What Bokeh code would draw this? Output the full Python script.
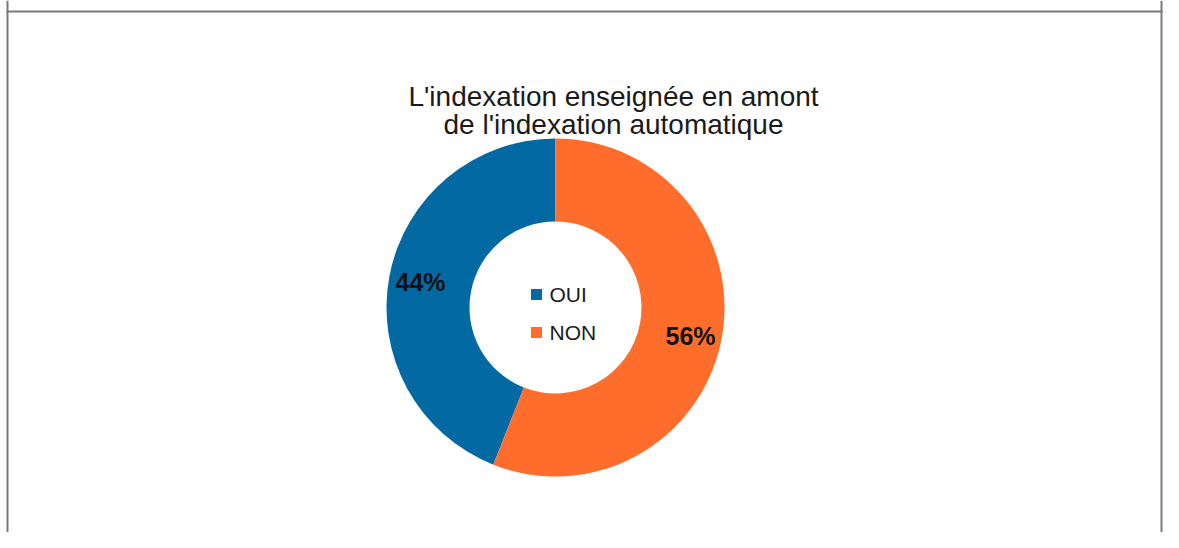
from math import pi
from bokeh.plotting import figure
from bokeh.models import Range1d, Span, ColumnDataSource
from bokeh.core.properties import value
from bokeh.embed import file_html
from bokeh.resources import INLINE

# ---- data ----
categories = ["OUI", "NON"]
shares = [44, 56]
labels = ["44%", "56%"]
colors = ["#0369a3", "#ff6d2d"]
title_lines = ["L'indexation enseignée en amont", "de l'indexation automatique"]

W, H = 1163, 532
FONT = "Liberation Sans"

def px(x):
    return x

def py(y):
    return H - y

p = figure(width=W, height=H, output_backend="svg", toolbar_location=None,
           x_range=Range1d(0, W), y_range=Range1d(0, H),
           min_border=0, outline_line_color=None)
p.axis.visible = False
p.grid.visible = False
p.background_fill_color = "white"
p.border_fill_color = "white"

# frame (left, top, right; bottom is cut off in the reference)
frame_col = "#7a7a7a"
p.add_layout(Span(location=px(7), dimension="height", line_color=frame_col, line_width=2))
p.add_layout(Span(location=W - 2, dimension="height", line_color=frame_col, line_width=2))
p.segment(x0=[px(6)], y0=[py(11)], x1=[W - 1], y1=[py(11)],
          line_color=frame_col, line_width=2)

# donut wedges from shares
total = sum(shares)
starts, ends = [], []
acc = pi / 2
for s in shares:
    starts.append(acc)
    acc += s / total * 2 * pi
    ends.append(acc)

cx, cy = px(555), py(307)
src = ColumnDataSource(dict(cat=categories, start=starts, end=ends, color=colors))
p.annular_wedge(x=cx, y=cy, inner_radius=86, outer_radius=169,
                start_angle="start", end_angle="end", fill_color="color",
                line_color=None, source=src)

# percentage labels
lab_x = [px(420), px(690)]
lab_y = [py(281), py(335)]
p.text(x=lab_x, y=lab_y, text=labels, text_align="center", text_baseline="middle",
       text_font=value(FONT), text_font_style="bold", text_font_size="25px",
       text_color="#111111")

# title
p.text(x=[px(613), px(613)], y=[py(96), py(124)], text=title_lines,
       text_align="center", text_baseline="alphabetic",
       text_font=value(FONT), text_font_size="28px", text_color="#1a1a1a")

# legend inside hole
leg_y = [py(294), py(332)]
p.scatter(x=[px(536), px(536)], y=leg_y, marker="square", size=11,
          fill_color=colors, line_color=None)
p.text(x=[px(549), px(549)], y=leg_y, text=categories, text_align="left",
       text_baseline="middle", text_font=value(FONT), text_font_size="21px",
       text_color="#1a1a1a")

open("out.html", "w").write(file_html(p, INLINE))
